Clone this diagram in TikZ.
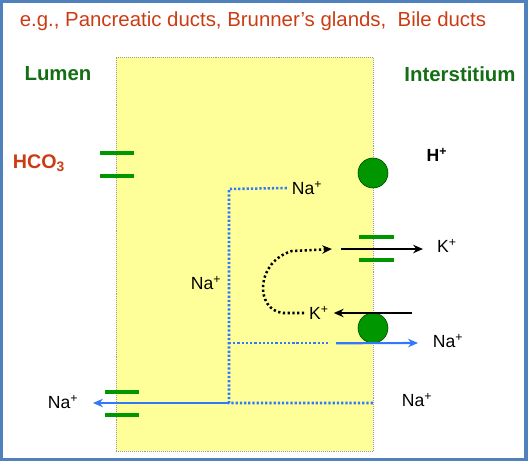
\documentclass[tikz,border=0pt]{standalone}
\usepackage{fontspec}
\setmainfont{Liberation Sans}
\usetikzlibrary{positioning,arrows.meta,shapes.geometric}

\definecolor{titlered}{RGB}{204,60,20}
\definecolor{sidegreen}{RGB}{20,110,20}
\definecolor{gategreen}{RGB}{0,150,0}
\definecolor{cellyellow}{RGB}{255,255,153}
\definecolor{flowblue}{RGB}{50,120,250}
\definecolor{frameblue}{RGB}{79,129,189}

\begin{document}
\begin{tikzpicture}[x=0.025cm,y=-0.025cm,
  title/.style={font=\fontsize{14.5}{17}\selectfont,text=titlered},
  side/.style={font=\fontsize{14.5}{17}\selectfont\bfseries,text=sidegreen},
  ion/.style={font=\fontsize{12.5}{15}\selectfont},
  gate/.style={line width=3pt,gategreen},
  pump/.style={circle,draw=black!55!gategreen,fill=gategreen,minimum size=0.75cm,inner sep=0pt},
  bluedot/.style={flowblue,line width=1.8pt,dash pattern=on 1.6pt off 1.4pt},
  bluearrow/.style={flowblue,line width=1.5pt,-{Stealth[length=7pt,width=6pt]}},
  blackarrow/.style={black,line width=1.5pt,-{Stealth[length=7pt,width=6pt]}},
  blackdot/.style={black,line width=1.8pt,dash pattern=on 1.6pt off 1.8pt,-{Stealth[length=7pt,width=6pt]}},
]
\useasboundingbox (0,0) rectangle (528,461);

% Frame
\draw[frameblue,line width=2.2pt] (1.5,1.5) rectangle (526,459.5);

% Title
\node[title] (title) at (253,21) {e.g., Pancreatic ducts, Brunner’s glands,\ \ Bile ducts};

% Compartments
\node[side] (lumen) at (58,74) {Lumen};
\node[side] (inter) at (460,74) {Interstitium};

% Cell
\node[draw=black!40,densely dotted,fill=cellyellow,minimum width=6.425cm,minimum height=9.85cm,
      inner sep=0pt] (cell) at (244.5,254) {};

% Ions
\node[font=\fontsize{14}{17}\selectfont\bfseries,text=titlered] (hco) at (39,163) {HCO\textsubscript{3}};
\node[ion,font=\fontsize{12.5}{15}\selectfont\bfseries] (hplus) at (437,155) {H\textsuperscript{+}};
\node[ion] (natop) at (307,188) {Na\textsuperscript{+}};
\node[ion] (namid) at (206,283) {Na\textsuperscript{+}};
\node[ion] (kout) at (447,246) {K\textsuperscript{+}};
\node[ion] (kin) at (319,313) {K\textsuperscript{+}};
\node[ion] (naout) at (448,341) {Na\textsuperscript{+}};
\node[ion] (nabr) at (417,400) {Na\textsuperscript{+}};
\node[ion] (nabl) at (63,402) {Na\textsuperscript{+}};

% Channels
\draw[gate] (100,153) -- (134,153);
\draw[gate] (100,176) -- (134,176);
\draw[gate] (359,237) -- (394,237);
\draw[gate] (359,260) -- (394,260);
\draw[gate] (105,392) -- (139,392);
\draw[gate] (105,415) -- (139,415);

% Pumps
\node[pump] (pumph) at (373,173) {};
\node[pump] (pumpna) at (373,328) {};

% Sodium path
\coordinate (jtop) at (229,189);
\coordinate (jmid) at (229,343);
\coordinate (jbot) at (229,403);
\coordinate (lout) at (93,403);
\draw[bluedot] (natop.west) -- (jtop) -- (jbot) -- (jbot -| cell.east);
\draw[bluedot] (jmid) -- (330,343);
\draw[bluearrow] (jbot) -- (lout);
\draw[bluearrow] (pumpna.south) ++(-37,0) coordinate (nain) -- (418,343);

% Potassium path
\coordinate (kstart) at (341,249);
\coordinate (kend) at (423,249);
\coordinate (kback) at (412,313);
\draw[blackarrow] (kstart) -- (kend);
\draw[blackarrow] (kback) -- (kin.east);
\draw[blackdot] (kin.west) -- (283,313) .. controls (255,310) and (255,262) .. (292,251) -- (332,249);

\end{tikzpicture}
\end{document}
